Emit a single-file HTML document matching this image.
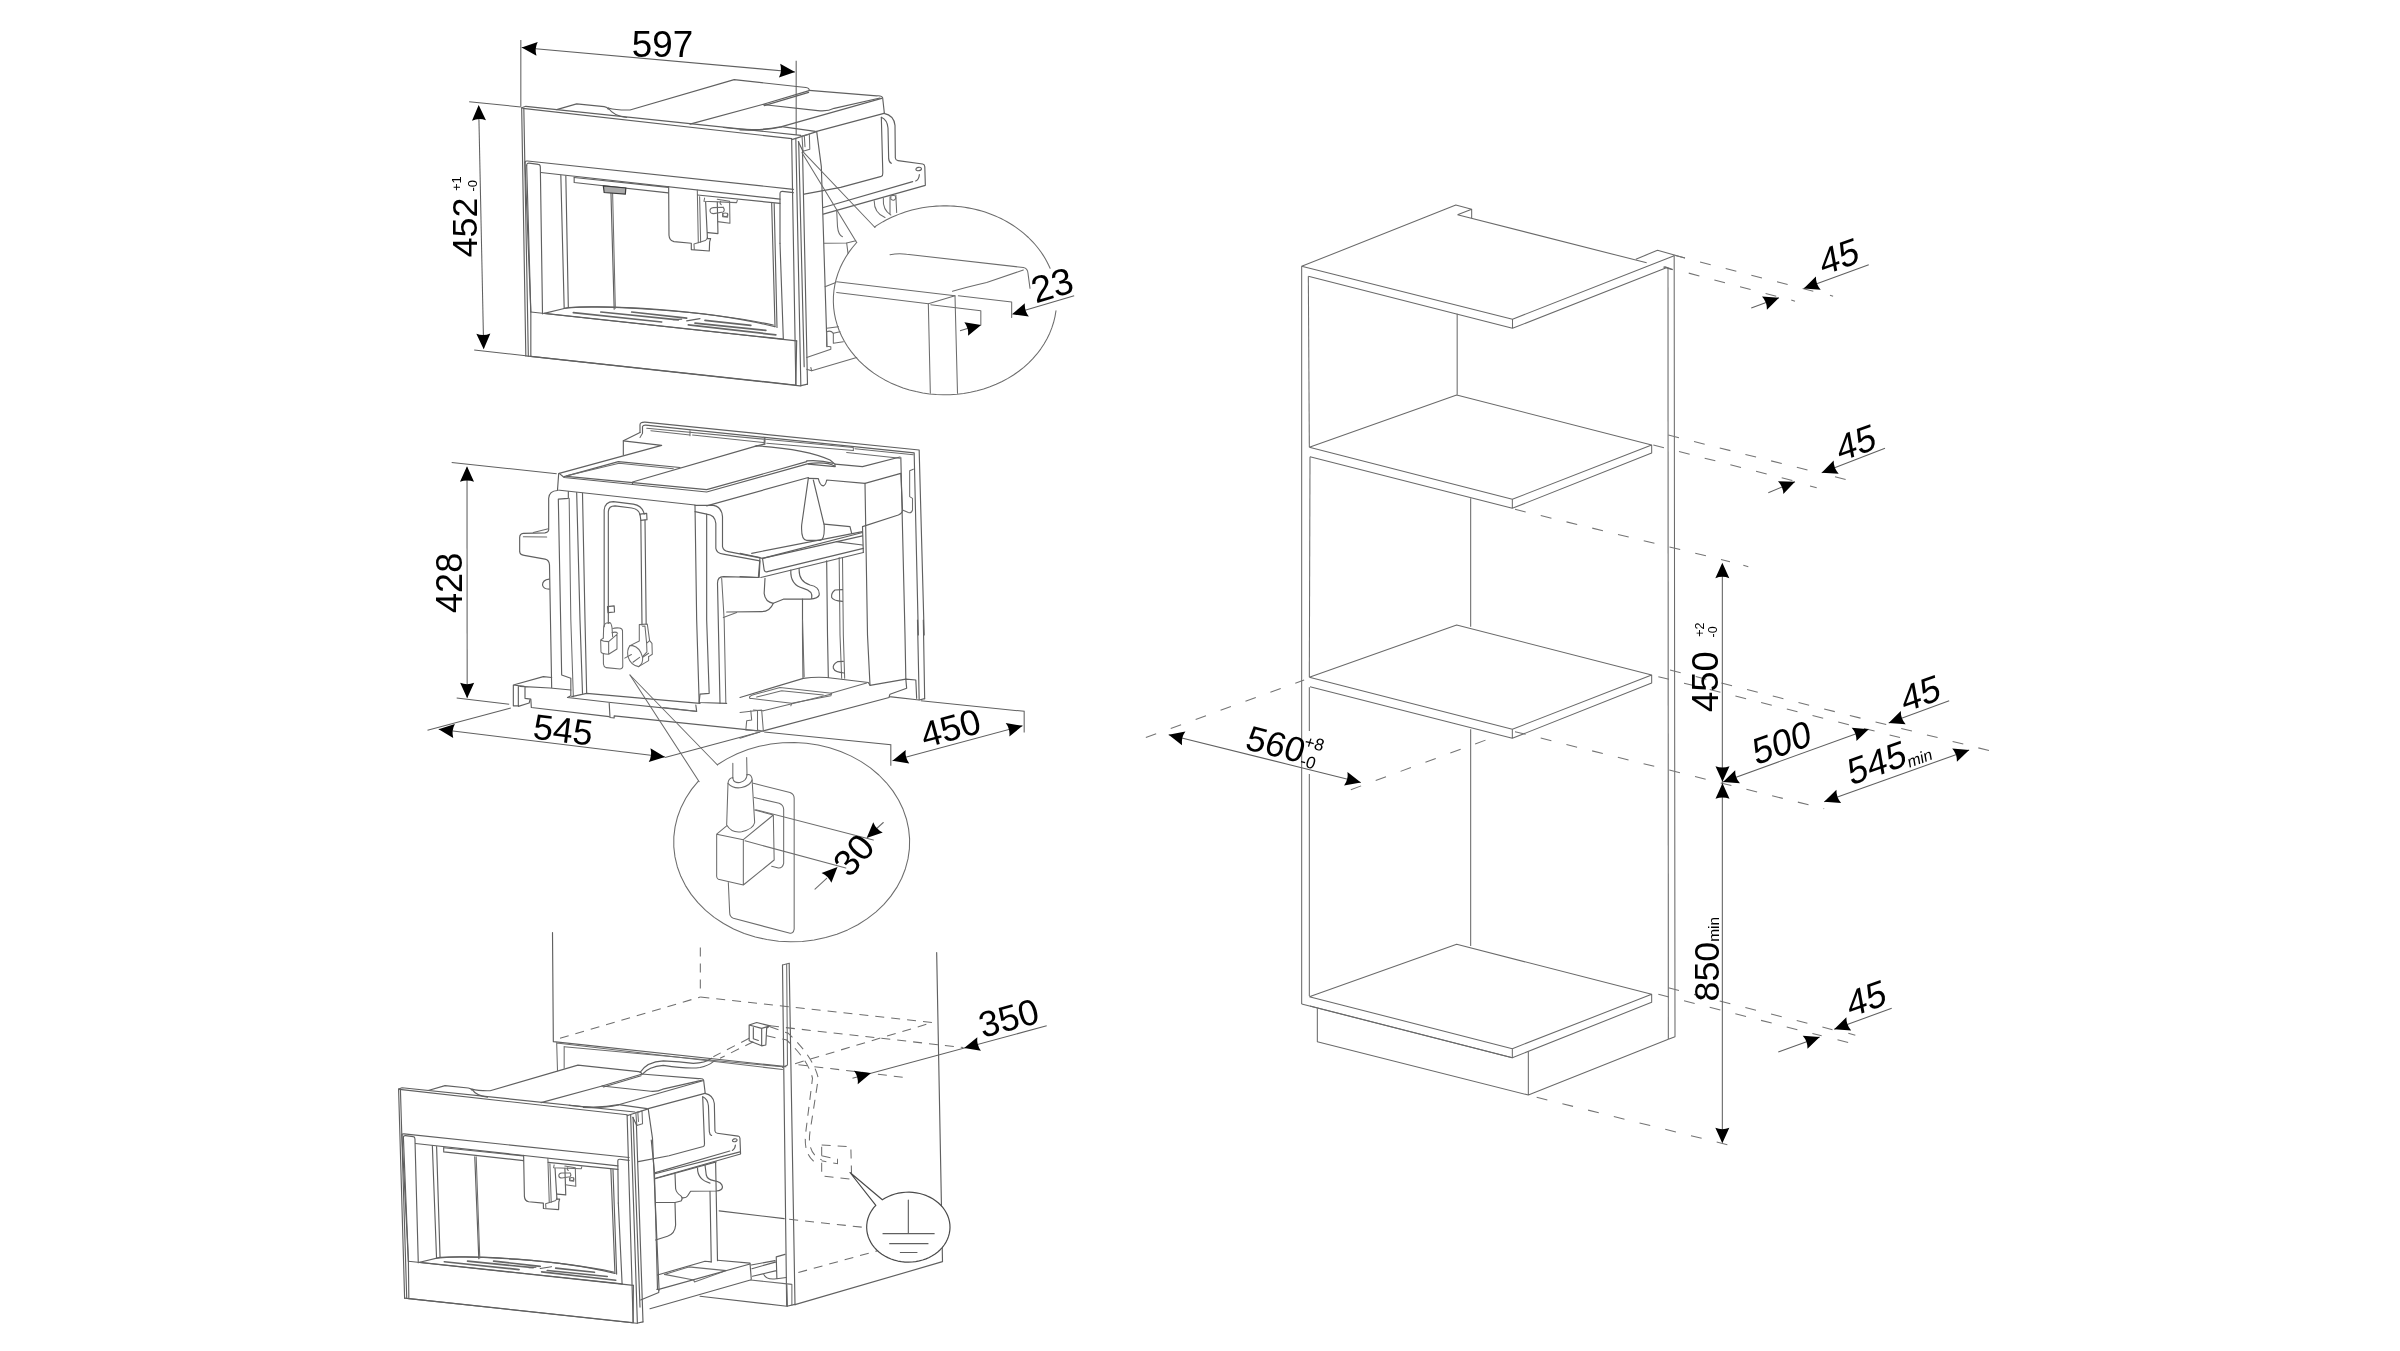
<!DOCTYPE html>
<html><head><meta charset="utf-8"><title>Installation drawing</title>
<style>
html,body{margin:0;padding:0;background:#fff;}
body{width:2400px;height:1351px;overflow:hidden;font-family:"Liberation Sans",sans-serif;}
svg{display:block;filter:blur(0.45px)}
.l,.t{vector-effect:non-scaling-stroke}
.l{fill:none;stroke:#606060;stroke-width:1.15;stroke-linecap:round;stroke-linejoin:round}
.t{fill:none;stroke:#6c6c6c;stroke-width:1.05;stroke-linecap:round;stroke-linejoin:round}
.d{fill:none;stroke:#606060;stroke-width:1.05;stroke-linecap:butt}
.c{fill:none;stroke:#6a6a6a;stroke-width:1.05;stroke-linejoin:round}
.h2{fill:none;stroke:#747474;stroke-width:1.05;stroke-dasharray:11 15.5}
.h{fill:none;stroke:#6e6e6e;stroke-width:1.05;stroke-dasharray:9 7}
.af{fill:#000;stroke:none}
.g{fill:#aaa;stroke:#3a3a3a;stroke-width:1.2}
.w{fill:#fff;stroke:#3a3a3a;stroke-width:1.3;stroke-linejoin:round}
text{font-family:"Liberation Sans",sans-serif;fill:#000}
</style></head><body>
<svg width="2400" height="1351" viewBox="0 0 2400 1351">
<rect width="2400" height="1351" fill="#fff"/>
<!-- 01_top.py -->
<path class="d" d="M 520.83 40 L 520.83 106.67"/>
<path class="d" d="M 796.17 60.83 L 796.17 135"/>
<path class="d" d="M521.67 47.5 L795 72"/>
<path class="af" d="M521.67 47.5 L537.73 41.91 Q534.32 48.63 536.48 55.86 Z"/>
<path class="af" d="M795 72 L778.94 77.59 Q782.35 70.87 780.19 63.64 Z"/>
<text x="662.5" y="56.83" font-size="36.8" text-anchor="middle">597</text>
<path class="d" d="M 469.17 101.67 L 520.83 107"/>
<path class="d" d="M 474.17 350 L 525.83 355.83"/>
<path class="d" d="M 478.67 106.67 L 483.67 348.33"/>
<path class="af" d="M478.67 105 L485.98 120.35 Q478.93 117.7 471.99 120.64 Z"/>
<path class="af" d="M483.67 349.17 L476.35 333.81 Q483.41 336.47 490.35 333.53 Z"/>
<text x="477" y="257.3" font-size="35.8" text-anchor="start" transform="rotate(-90 477 257.3)">452</text>
<text x="461" y="191" font-size="13" text-anchor="start" transform="rotate(-90 461 191)">+1</text>
<text x="477" y="191.5" font-size="13" text-anchor="start" transform="rotate(-90 477 191.5)">-0</text>
<g id="dev">
<path class="l" d="M 521.67 107.83 L 525.83 106.33 L 800.83 135.33"/>
<path class="l" d="M 522.83 108.33 L 791.67 138.67"/>
<path class="l" d="M 521.67 107.83 L 525.83 355.83"/>
<path class="l" d="M 523.83 108.67 L 528.33 356.17"/>
<path class="l" d="M 525 162.5 L 530.83 312.5 L 530.83 356.33"/>
<path class="l" d="M 525.83 355.83 L 800 385.83 L 807.5 384.17"/>
<path class="l" d="M 530.83 356.33 L 795 385"/>
<path class="l" d="M 791.67 139.67 L 795.83 385"/>
<path class="l" d="M 795.83 138.33 L 800.83 385.83"/>
<path class="l" d="M 798.67 141.67 L 804.17 366.67"/>
<path class="l" d="M 802.5 150 L 807.5 384.17"/>
<path class="l" d="M 791.67 139.67 L 795.83 138.33 L 816.67 131.67"/>
<path class="l" d="M 525 162.5 Q 525 160.83 527.5 161 L 793.33 189.33"/>
<path class="l" d="M 526.67 165.33 Q 526.67 163 529.17 163.17 L 538.33 164.33 Q 540.33 164.5 540.33 167 L 542.5 313.83"/>
<path class="l" d="M 526.67 165.33 L 530.83 312"/>
<path class="l" d="M 540.83 172.5 L 780 199.17"/>
<path class="l" d="M 780 243.33 L 780 193.67 Q 780 191.17 782.5 191.33 L 793.33 192.67"/>
<path class="l" d="M 780 243.33 L 783.33 339.17"/>
<path class="l" d="M 560.83 175.33 L 564.17 308"/>
<path class="l" d="M 565.83 176 L 568.33 307.5"/>
<path class="l" d="M 771.67 203.33 L 775 326.67"/>
<path class="l" d="M 774.17 203.67 L 777 327.5"/>
<path class="l" d="M 530.83 312 L 796.67 340.83"/>
<path class="l" d="M 796.67 340.83 L 795.83 385"/>
<path class="l" d="M 544.17 313.33 L 783.33 339.17"/>
<path class="l" d="M 544.17 313.33 L 568.33 307.5"/>
<path class="l" d="M 564.17 308.33 C 606.67 304.17 706.67 310 775 326.67"/>
<path class="l" d="M 568.33 307.5 C 606.67 305 706.67 310.83 773.33 325"/>
<path class="l" style="stroke-width:1.7;stroke:#666" d="M573.33 312.67 L661.67 322"/>
<path class="l" style="stroke-width:1.7;stroke:#666" d="M600.83 312 L678.33 319.83"/>
<path class="l" style="stroke-width:1.7;stroke:#666" d="M631.67 312 L686.67 318.17"/>
<path class="l" style="stroke-width:1.7;stroke:#666" d="M688.33 324.83 L775.83 334.83"/>
<path class="l" style="stroke-width:1.7;stroke:#666" d="M695 323.17 L765.83 330.33"/>
<path class="l" style="stroke-width:1.7;stroke:#666" d="M705 320.33 L750.83 325.33"/>
<path class="l" d="M 673.33 319.67 L 681.67 319.17 M 686.67 320.83 L 700 318.67"/>
<path class="l" d="M 574.17 177.5 L 574.17 182.5 L 668.33 192.83"/>
<path class="l" d="M 574.17 177.5 L 668.33 187.33"/>
<path class="l" d="M 610.83 188.33 L 614.17 309.17"/>
<path class="t" d="M 612.5 188.33 L 615.33 308.33"/>
<path class="l" d="M 668.65 186.66 L 668.99 235.29 Q 669.32 240.62 673.98 241.62 L 691.31 243.28 L 691.31 249.61 L 709.29 250.95 L 709.63 241.95 L 710.63 238.62 L 708.09 238.62"/>
<path class="t" d="M 697.3 189.99 L 698.3 242.62 M 699.63 196.65 L 700.63 242.29"/>
<path class="t" d="M 693.97 243.95 L 705.3 240.62 Q 707.43 239.29 707.43 237.29 M 693.97 243.95 L 694.3 249.41"/>
<path class="l" d="M 705.63 201.98 L 707.43 238.62 M 717.29 201.98 L 717.95 233.62 L 707.96 232.62"/>
<path class="t" d="M 717.29 199.31 L 729.61 201.31 L 729.95 223.3 L 717.62 221.63"/>
<path class="t" d="M 704.63 197.98 L 703.96 201.31 L 736.61 202.64 L 737.28 200.31"/>
<path class="t" d="M 720.62 201.31 Q 719.29 203.31 721.29 204.64 M 723.28 207.31 L 713.29 207.64 Q 709.96 207.97 709.96 210.97 Q 710.29 213.64 713.62 213.64 L 723.28 211.97 Q 725.28 209.97 723.28 207.31"/>
<ellipse class="t" cx="725.28" cy="214.77" rx="2.5" ry="1.8"/>
<path class="t" d="M 722.62 213.3 L 722.62 216.64 L 727.61 217.3 L 727.61 213.3"/>
<path class="l" d="M 697.5 195 L 780 203.33"/>
</g>
<path class="g" d="M603.33 185.83 L625.83 188 L625.33 194.17 L604.17 192.5 Z"/>
<!-- 02_top_b.py -->
<g id="dev2">
<path class="l" d="M 556.67 109.67 L 576.67 103.83 L 604.17 106.67 Q 607.5 107.17 608.33 109.17"/>
<path class="l" d="M 608.33 108 Q 613.33 115.83 626.67 117.5"/>
<path class="l" d="M 608.33 108 Q 616.67 110.33 630 110 L 734.17 79.67 L 805.83 87.5 Q 809.67 88 809.17 90.67 L 762.5 104.5"/>
<path class="l" d="M 808.67 92.33 L 764.17 105.67"/>
<path class="l" d="M 690 124.17 L 762.5 104.5"/>
<path class="l" d="M 762.5 104.5 L 820 110.83 Q 828.33 111.33 834.17 108.33 L 880 98"/>
<path class="l" d="M 723.33 127.5 Q 756.67 132 781.67 126.67 L 881.67 98.33"/>
<path class="l" d="M 740 130 Q 765 130.83 781.67 127"/>
<path class="l" d="M 809.17 90.33 L 876.67 95.83 Q 882 95.33 882.67 98 L 884.33 113"/>
<path class="l" d="M 781.67 126.67 L 815.33 131.33"/>
<path class="l" d="M 816.67 131.33 L 884 113.33"/>
<path class="l" d="M 816.67 131.33 L 821.33 166.67 L 827 346.67"/>
<path class="l" d="M 881.33 117.33 L 882.8 172.67 Q 883 175.67 881.33 176.33 L 840.67 187.33 L 804.17 194.17"/>
<path class="l" d="M 884 113.33 Q 894 115.33 895 125.33 L 895.33 158 Q 895.67 160.33 898 160.67 L 922.67 164 Q 924.67 164.53 924.8 166.67 L 925.33 185.33 L 823.33 214.17"/>
<path class="l" d="M 881.33 117.33 Q 887.33 120 888 128 L 888.67 158.67 Q 889 162.33 891.33 163.33"/>
<ellipse class="l" cx="918.67" cy="169" rx="2.8" ry="1.7" transform="rotate(-10 918.67 169)"/>
<path class="l" d="M 919.33 174.67 Q 919 179.33 915.67 181"/>
<path class="l" d="M 912.67 181.67 L 823.33 207.5"/>
<path class="t" d="M 802 136 L 809.33 134.33 L 809.8 149.33 L 803 151.33 Z"/>
<path class="t" d="M 804.33 135.67 L 805 146.67"/>
<path class="l" d="M 798.33 141.67 L 803 151.33"/>
</g>
<path class="t" d="M 874.17 200.83 Q 874.17 213.33 885 217.5 M 883.33 198.33 Q 882.5 210 890.83 215 M 890 196.67 L 890 214.17 M 895.83 195 L 896.67 212.5"/>
<path class="t" d="M 890.83 195.83 Q 895.83 194.17 895.83 198.33 Q 894.17 201.67 890.83 199.17 Z"/>
<path class="t" d="M 836.67 210 L 837.5 226.67 Q 838.33 235 842.5 236.67"/>
<path class="t" d="M 824.17 243.33 L 846.67 243 L 855.83 240.83"/>
<path class="t" d="M 846.67 243 L 848 253.33"/>
</g>
<path class="t" d="M 802.67 151.33 L 875 227.5"/>
<path class="t" d="M 802 152.67 L 856.67 242.5"/>
<path class="t" d="M 806.67 357.5 L 830.83 349.17 L 830.83 346.67 L 826.67 346.33 L 826.67 331.67 Q 830.83 330 833.33 333.33 L 833.33 343.33 L 843.33 341.67"/>
<path class="t" d="M 811.67 370.83 L 856.67 357.5"/>
<path class="t" d="M 806.67 369.17 L 811.67 370.83 L 810.83 367.5"/>
<path class="t" d="M 825 286.67 L 835.83 282.5"/>
<path class="t" d="M 826.67 328.33 L 838.33 326.67 M 833.33 333.33 L 840 331.67"/>
<path class="t" d="M 874.53 227.02 L 877.33 225.17 L 880.18 223.38 L 883.12 221.67 L 886.1 220.05 L 889.15 218.5 L 892.25 217.05 L 895.4 215.67 L 898.62 214.37 L 901.87 213.17 L 905.15 212.05 L 908.5 211.03 L 911.87 210.08 L 915.28 209.25 L 918.72 208.48 L 922.18 207.83 L 925.67 207.27 L 929.17 206.78 L 932.7 206.42 L 936.23 206.13 L 939.77 205.93 L 943.32 205.85 L 946.87 205.85 L 950.42 205.95 L 953.97 206.13 L 957.5 206.43 L 961.02 206.82 L 964.52 207.28 L 968.02 207.87 L 971.47 208.53 L 974.92 209.28 L 978.32 210.13 L 981.68 211.08 L 985.02 212.12 L 988.32 213.23 L 991.57 214.45 L 994.77 215.73 L 997.92 217.12 L 1001.02 218.58 L 1004.07 220.13 L 1007.05 221.77 L 1009.97 223.47 L 1012.82 225.27 L 1015.62 227.12 L 1018.32 229.07 L 1020.97 231.07 L 1023.53 233.15 L 1026.02 235.3 L 1028.42 237.5 L 1030.73 239.78 L 1032.97 242.12 L 1035.1 244.52 L 1037.17 246.97 L 1039.12 249.48 L 1040.98 252.03 L 1042.75 254.63 L 1044.42 257.3 L 1045.98 259.98 L 1047.45 262.73 L 1048.8 265.5 L 1050.07 268.32"/>
<path class="t" d="M 1055.97 310.85 L 1055 316.6 L 1053.62 322.28 L 1051.82 327.88 L 1049.62 333.4 L 1047.02 338.77 L 1044.03 344 L 1040.67 349.07 L 1036.95 353.95 L 1032.88 358.63 L 1028.48 363.08 L 1023.78 367.32 L 1018.77 371.28 L 1013.48 374.98 L 1007.93 378.4 L 1002.13 381.52 L 996.13 384.33 L 989.95 386.83 L 983.58 389.02 L 977.07 390.85 L 970.43 392.35 L 963.7 393.5 L 956.9 394.3 L 950.07 394.73 L 943.2 394.82 L 936.35 394.55 L 929.52 393.92 L 922.75 392.93 L 916.07 391.6 L 909.5 389.93 L 903.07 387.92 L 896.78 385.57 L 890.68 382.9 L 884.8 379.92 L 879.13 376.65 L 873.72 373.07 L 868.57 369.23 L 863.72 365.13 L 859.17 360.78 L 854.93 356.2 L 851.05 351.42 L 847.52 346.43 L 844.35 341.28 L 841.58 335.97 L 839.18 330.52 L 837.2 324.97 L 835.6 319.32 L 834.43 313.58 L 833.68 307.82 L 833.35 302.02 L 833.43 296.2 L 833.95 290.42 L 834.88 284.65 L 836.23 278.97 L 837.98 273.35 L 840.15 267.83 L 842.7 262.45 L 845.65 257.2 L 848.97 252.12 L 852.65 247.22 L 856.68 242.5"/>
<path class="t" d="M 890 254.67 Q 898.33 253 906.67 254.17 L 1023.33 267.5 Q 1027.67 268.33 1028 273.33 L 1030 288.33"/>
<path class="t" d="M 1023.33 270 L 986.67 282.5 Q 965 287.5 952.5 291.33"/>
<path class="t" d="M 836.67 281.67 L 955 295.83 L 957.5 393.33"/>
<path class="t" d="M 958.33 295.83 L 1011.67 302 L 1011.67 317.5"/>
<path class="t" d="M 836.67 292.5 L 928.33 303.67 L 955 295.83"/>
<path class="t" d="M 928.33 303.67 L 930.33 393.33"/>
<path class="t" d="M 930.83 304.67 L 980.83 310.83 L 980.83 325"/>
<path class="d" d="M 960 330.83 L 968.33 328.33"/>
<path class="af" d="M981.17 325 L968.08 335.87 Q968.92 328.37 964.36 322.37 Z"/>
<path class="d" d="M 1023.33 310.83 L 1074.17 295.83"/>
<path class="af" d="M1012 314.33 L1024.86 303.2 Q1024.17 310.71 1028.85 316.62 Z"/>
<text x="1055.83" y="297.5" font-size="37.5" text-anchor="middle" transform="rotate(-16.5 1055.83 297.5)">23</text>
<!-- 03_mid.py -->
<path class="d" d="M 451.67 462.5 L 556.67 473.67"/>
<path class="d" d="M 456.67 698 L 509.17 704.17"/>
<path class="d" d="M 467 467.5 L 467.17 697.5"/>
<path class="af" d="M467 466.33 L474.01 481.83 Q467.01 479.03 460.01 481.84 Z"/>
<path class="af" d="M467.17 698.33 L460.16 682.84 Q467.16 685.63 474.16 682.83 Z"/>
<text x="462.3" y="613" font-size="36.1" text-anchor="start" transform="rotate(-90 462.3 613)">428</text>
<path class="d" d="M 427.5 730.33 L 510.83 708"/>
<path class="d" d="M 665 757.5 L 760 732"/>
<path class="d" d="M438.67 729.17 L665 757"/>
<path class="af" d="M438.67 729.17 L454.91 724.11 Q451.27 730.72 453.2 738.01 Z"/>
<path class="af" d="M665 757 L648.76 762.06 Q652.39 755.45 650.47 748.16 Z"/>
<text x="561.67" y="742.17" font-size="35.8" text-anchor="middle" transform="rotate(7 561.67 742.17)">545</text>
<path class="d" d="M 764.17 732 L 890.83 744.67 L 890.83 765.83"/>
<path class="d" d="M 920.83 700.83 L 1024.17 711.33 L 1024.17 732.5"/>
<path class="d" d="M892.5 760.83 L1022.5 725.83"/>
<path class="af" d="M892.5 760.83 L905.65 750.04 Q904.76 757.53 909.29 763.56 Z"/>
<path class="af" d="M1022.5 725.83 L1009.35 736.62 Q1010.24 729.13 1005.71 723.1 Z"/>
<text x="953.83" y="740.17" font-size="36.2" text-anchor="middle" transform="rotate(-15 953.83 740.17)">450</text>
<path class="l" d="M 640 432.5 L 640 424.67 Q 640 422 645 422.17 L 919.17 450 L 924.17 635"/>
<path class="l" d="M 642.5 433.33 L 642.5 426.67 Q 643 425 645.83 425.17 L 914.17 452.83 L 918.33 635"/>
<path class="t" d="M 650.83 430.83 L 690 435 M 690 430.83 L 690 435.83 M 692.5 435 L 763.33 442.5 M 764.17 438.33 L 764.17 444.17 M 765 438.33 L 765 444.17 M 766.67 443.33 L 853.33 450.5"/>
<path class="t" d="M 646.67 428.33 L 853.33 447.5 L 853.33 450.5"/>
<path class="t" d="M 855 448.67 L 913.33 454.67"/>
<path class="t" d="M 846.67 452.5 L 900 458.33"/>
<path class="l" d="M 640 432.5 L 623.33 440.83 L 623.33 455"/>
<path class="l" d="M 623.33 440.83 L 661.67 445.33 L 559.17 473.33"/>
<path class="t" d="M 640 437.5 L 642.5 433.33"/>
<path class="l" d="M 559.17 473.33 L 564.17 477.5 L 706.67 492 L 808.33 463.67 Q 826.67 461.33 835 466.33"/>
<path class="l" d="M 566.67 476.33 L 706.67 489.67 L 806.67 461.67 L 806.67 460.83 Q 820 459.67 833.33 463.33"/>
<path class="l" d="M 808.33 464.17 L 835 466.67 L 835 464.17 L 830 460 Q 806.67 449.17 756.67 445.83"/>
<path class="l" d="M 564.17 476.67 L 618.33 461.67 L 680 467.5"/>
<path class="t" d="M 566.67 475.83 L 619.17 463.33 L 673.33 468.67"/>
<path class="l" d="M 632.5 484.17 L 632.5 482 L 755 446.33 L 764.17 444.17"/>
<path class="l" d="M 755 446.33 L 756.67 445.83"/>
<path class="l" d="M 835 464.17 L 862.5 466.67 L 900 457"/>
<path class="l" d="M 558.67 473.67 L 557.5 490 L 695 505 M 706.67 505.83 L 808.33 477.5 L 808.33 478.33"/>
<path class="l" d="M 557.5 490.5 Q 549.17 490.83 548.67 498.33 L 548.67 530 Q 548.33 532.5 545 532.83 L 523.33 533.33 Q 519.67 533.67 519.67 537.5 L 519.67 551.67 Q 520 555 524.17 555.33 L 545 559.17 Q 549.17 560 549.5 565 L 551.67 687.5"/>
<path class="l" d="M 568.33 491.67 L 568.33 498.33 L 558.33 499.17 L 561.67 675 L 570.83 678.33 L 570.83 695.83 L 567.5 697.5"/>
<path class="t" d="M 569.17 498.33 L 570.83 620 L 573.33 696.67"/>
<path class="l" d="M 576.67 492.5 L 580 620 L 582.5 693.33"/>
<path class="l" d="M 582.5 493.33 L 585 620 L 586.67 693.33"/>
<path class="t" d="M 533.33 532.5 L 548.33 528.67 M 523.33 536.67 L 546.67 537"/>
<path class="l" d="M 549.17 579.17 Q 542.5 580 542.5 585 Q 543.33 589.17 549.17 589.17"/>
<path class="l" d="M 604.17 626.67 L 604.17 510 Q 605 501.67 613.33 501.67 L 633.33 504.17 Q 642.5 505.83 644.17 514.17"/>
<path class="l" d="M 608.33 623.33 L 608.33 511.67 Q 608.67 505.83 615 505.83 L 631.67 508 Q 639.17 509.17 640 515"/>
<path class="l" d="M 640 514.17 L 646.67 513.33 L 647 519.67 L 640.83 520.33 Z"/>
<path class="l" d="M 640.83 520.33 L 642 625 M 645 520 L 646.17 624.17"/>
<path class="l" d="M 607.5 606.67 L 614.17 605.83 L 614.5 612 L 608 612.67 Z"/>
<path class="t" d="M 603.32 637.97 L 603.65 627.31 Q 604.65 623.31 606.65 622.98 L 609.98 622.64 Q 611.31 623.31 611.98 627.31 L 612.64 636.64"/>
<path class="t" d="M 612.64 628.64 Q 614.64 627.64 619.31 627.97 Q 622.31 628.31 622.5 630.64 L 622.77 666.62 Q 622.31 668.95 619.97 668.95 L 605.98 667.61 Q 603.65 666.62 603.45 663.95 L 603.32 653.96"/>
<path class="t" d="M 600.65 639.97 L 600.99 651.96 Q 601.65 653.62 608.65 654.29 L 608.65 641.63 Q 603.32 641.63 600.65 639.97 L 603.32 638.1 M 608.65 641.63 L 616.98 634.3 L 616.98 648.96 L 608.65 654.29 M 611.98 632.64 Q 615.98 631.31 617.64 633.3"/>
<path class="t" d="M 639.29 624.64 L 647.29 623.98 L 649.62 640.63 L 651.95 643.3 L 652.29 654.29 L 648.62 656.62 M 639.29 624.64 L 639.29 640.97 L 629.97 645.63 M 642.62 626.31 L 644.96 625.98 L 646.62 643.3 L 649.29 640.97 M 646.62 643.3 L 646.96 651.96 L 642.62 656.62"/>
<path class="t" d="M 629.97 645.63 Q 626.64 649.96 627.97 656.62 Q 630.63 665.28 638.63 666.62 Q 643.29 663.95 642.62 657.29 Q 639.96 647.3 632.63 645.63 Z"/>
<path class="t" d="M 638.63 666.62 L 648.62 660.62 L 648.62 656.62 M 642.62 657.29 L 648.62 653.29"/>
<g style="stroke-width:1.5">
<path class="t" d="M 624.77 658.09 L 631.43 654.49 M 632.96 662.29 L 639.63 657.42"/>
</g>
<path class="l" d="M 695 505.33 L 713.33 505.33 Q 721.67 506.67 722.5 516.67 L 722.5 546.67 Q 723.33 550.83 728.33 551.67 L 762.5 558.33 L 862.5 532.5"/>
<path class="l" d="M 695 511.67 L 706.67 514.17 Q 715 515 715.83 523.33 L 715.83 548.33 Q 716.67 553.33 723.33 554.17 L 760 560.83 L 759.17 577.5 L 723.33 576.67 Q 717.5 576.67 717.5 583.33 L 720 703.33"/>
<path class="l" d="M 695 505.33 L 696.67 620 L 699.17 702.5"/>
<path class="l" d="M 706.67 514.17 L 706.67 620 L 709.17 693.33 L 700 694.17 L 699.17 702.5 L 726.67 703.33"/>
<path class="t" d="M 721.67 578.33 L 724.17 620 L 725.83 702.5"/>
<path class="t" d="M 723.33 617.5 L 736.67 612.5"/>
<path class="l" d="M 764.17 570 L 762.5 558.33 M 764.17 570 Q 765 572.5 767.5 571.67 L 863.33 548.33"/>
<path class="l" d="M 762.5 558.33 L 862.5 535.83 M 760.83 577.5 L 863.33 552.5 M 740 553.33 L 760 557.5 L 758.33 577.5 L 740 576.67 M 751.67 553.33 L 862.5 531.67 M 835.83 541.67 L 862.5 545"/>
<path class="l" d="M 862.5 526.67 L 863.33 552.5"/>
<path class="l" d="M 808.33 478.33 L 818.33 478.67 Q 820 485.83 823.33 485.83 Q 825.83 485 826.67 480 L 865 483.33 L 900.83 473.33 L 902.5 510 Q 902.5 513.33 898.33 515 L 862.5 526.67"/>
<path class="l" d="M 865 483.33 L 867.5 635 L 870 685.33"/>
<path class="l" d="M 900.83 457.5 L 905 635 L 905.83 679.17"/>
<path class="l" d="M 808.33 478.33 L 801.67 525 Q 800.83 540 806.67 540.33 L 820 540.33 Q 825 540 824.17 525 L 813.33 480"/>
<path class="l" d="M 824.17 524.17 L 850 526.67 L 851.67 533.33"/>
<path class="t" d="M 913.33 469.17 L 909.67 470.83 L 909.67 496.67 L 912.5 498.33 L 912.5 510 Q 911.67 513.33 908.33 512.5 L 902.5 510"/>
<path class="l" d="M 790.83 570 Q 790 585 803.33 588.33 Q 813.33 590.83 811.67 598.33"/>
<path class="l" d="M 799.17 568.33 Q 798.33 581.67 810 585 Q 820 586.67 819.17 595 Q 818.33 598.33 810 599.17 L 783.33 599.17 L 773.33 603.33 Q 770 611.67 761.67 611.67 L 726.67 612"/>
<path class="l" d="M 765 578.33 L 764.17 593.33 Q 765 601.67 773.33 603.33"/>
<path class="l" d="M 802.5 599.17 L 802.5 635 L 803 677.5"/>
<path class="l" d="M 826.67 560.83 L 827.5 635 L 828.33 677.5"/>
<path class="t" d="M 839.17 557.5 L 840 635 L 841.67 678.33 M 842.5 557.5 L 843.33 635 L 844.67 678.33"/>
<path class="l" d="M 842.5 589.67 L 835 590 Q 830.83 593.33 831.67 597.5 Q 833.33 600.83 842.5 601.33"/>
<path class="l" d="M 843.33 661.33 L 837.5 661.67 Q 832.5 664.17 833.33 668.33 Q 835 672.5 844.17 673"/>
<path class="t" d="M 802.5 620 L 804.17 676.67"/>
<path class="l" d="M 513.33 705.83 L 513.33 685 L 543.33 676.67 L 551.67 677.5 M 513.33 685 L 524.17 686.33 M 518.33 686.67 L 518.33 705.83 L 513.33 705.83 M 518.33 706.33 L 529.17 703 L 530 699.67"/>
<path class="l" d="M 520 686.33 L 550 688 L 570.83 690 M 525 687.5 L 525 698.33 L 530.83 699.17 L 531.33 707.5 L 609.17 716.67"/>
<path class="l" d="M 567.5 697.5 L 610.83 702.5 L 696.67 711.33 L 695.83 705 M 609.17 702.5 L 610 717.5 L 614.17 718 L 614.17 715.83 L 758.33 730.83"/>
<path class="l" d="M 571.67 696.67 L 586.67 693.33 L 700 703.33"/>
<path class="t" d="M 663.33 707.5 L 695.83 711.33"/>
<path class="l" d="M 740 697.5 L 803.33 678.33 Q 815 676.67 826.67 677.5 L 868.33 682.5 L 870 685.33 L 905.83 679.17 L 915.83 680 L 916.67 698.33"/>
<path class="l" d="M 905.83 679.17 L 906.67 688.33 L 890 694.17 L 889.17 696.67 L 919.17 700 L 924.67 698.67"/>
<path class="l" d="M 917.5 620 L 919.17 699.67 M 923.33 620 L 924.67 698.67"/>
<path class="t" d="M 750 698.33 Q 748.33 696.67 752.5 695 L 780 687.5 L 831.67 693.33 L 830.83 695.83 L 791.67 703.33 L 790.83 705.83 M 750 698.33 L 791.67 703.33"/>
<path class="t" d="M 756.67 697 L 781.67 690.83 L 823.33 695"/>
<path class="t" d="M 866.67 683 L 830.83 693.33"/>
<path class="l" d="M 763.33 730.83 L 889.17 697.5"/>
<path class="t" d="M 740 712.5 L 761.67 710 L 763.33 730.83 L 740 738.33 M 763.33 710.83 L 830.83 694.17"/>
<path class="t" d="M 753.33 710 L 763.33 710.83 M 757.5 710.83 L 757.5 730 L 763.33 731.33 M 750.83 710.83 L 751.67 720 L 746.67 720.83 L 745.83 730 L 757.5 730.83"/>
<path class="t" d="M 717.3 764.78 L 726.9 758.85 L 737.17 753.77 L 747.98 749.58 L 759.25 746.33 L 770.83 744.07 L 782.63 742.8 L 794.53 742.53 L 806.4 743.28 L 818.12 745.03 L 829.57 747.78 L 840.63 751.48 L 851.2 756.12 L 861.15 761.62 L 870.4 767.93 L 878.85 775 L 886.42 782.77 L 893.02 791.13 L 898.58 800.02 L 903.07 809.32 L 906.42 818.97 L 908.6 828.85 L 909.6 838.87 L 909.4 848.92 L 908 858.88 L 905.4 868.7 L 901.67 878.23 L 896.8 887.42 L 890.87 896.13 L 883.93 904.3 L 876.07 911.83 L 867.32 918.65 L 857.82 924.7 L 847.63 929.9 L 836.9 934.22 L 825.68 937.6 L 814.13 940.02 L 802.35 941.42 L 790.47 941.83 L 778.58 941.22 L 766.83 939.6 L 755.35 937 L 744.23 933.42 L 733.58 928.92 L 723.53 923.53 L 714.18 917.33 L 705.62 910.35 L 697.92 902.68 L 691.18 894.4 L 685.45 885.6 L 680.82 876.33 L 677.3 866.73 L 674.97 856.88 L 673.8 846.88 L 673.83 836.83 L 675.07 826.83 L 677.5 816.98 L 681.08 807.4 L 685.78 798.18 L 691.57 789.4 L 698.37 781.15"/>
<path class="t" d="M 630 675 L 699.17 781.67"/>
<path class="t" d="M 630 675 L 717.5 765"/>
<path class="t" d="M 732.83 763.33 L 732.83 778.33 M 746.67 757.5 L 747 775"/>
<path class="t" d="M 728 783.33 L 726.67 825 Q 731.67 833.33 741.67 831.67 Q 753.33 829.17 754.67 822.5 L 752 778.33 Q 750.83 773.67 746.67 774.67 M 728 783.33 Q 728.33 778.33 732.83 777.5"/>
<path class="t" d="M 728 783.33 Q 733.33 789.17 741.67 787.5 Q 750 785.83 752.17 780 M 732.83 778 Q 733.33 783.33 740 782.5 Q 746.67 780.83 747 775"/>
<path class="t" d="M 716.67 834.17 L 743.33 839.67 L 773.33 815 L 774.17 860 L 743.33 885 L 718.33 879.17 Q 716.33 878.33 716.67 875 Z M 716.67 834.17 L 726.67 825.83 M 743.33 839.67 L 743.33 885 M 754.67 810 L 773.33 815"/>
<path class="t" d="M 753.33 783.33 L 790 792.5 Q 794.17 794.17 794.17 798.33 L 794.17 929.17 Q 793.33 934.17 789.17 933 L 733.33 918.33 Q 729.67 916.67 729.67 912.5 L 728.33 882.5"/>
<path class="t" d="M 754.17 797.5 L 779.17 803.33 Q 783.33 805 783.67 809.17 L 783.67 863.33 Q 782.5 868.33 778.33 868 L 771.67 866.33"/>
<path class="t" d="M 755.83 809.67 L 873.33 840 M 745 840.83 L 845.83 868"/>
<path class="t" d="M 875 830 L 883.33 822.5"/>
<path class="af" d="M866.67 838 L873.25 822.32 Q875.97 829.35 882.78 832.57 Z"/>
<path class="t" d="M 815 889.17 L 826.67 878.33"/>
<path class="af" d="M837.5 867 L831.37 882.86 Q828.45 875.91 821.55 872.89 Z"/>
<text x="863" y="863.33" font-size="36.5" text-anchor="middle" transform="rotate(-48 863 863.33)">30</text>
<!-- 04_bot.py -->
<use href="#dev" transform="matrix(0.84528 -0.00078 0.01011 0.84347 -43.459 998.451)"/>
<use href="#dev2" transform="matrix(0.84528 -0.00078 0.01011 0.84347 -43.459 998.451)"/>
<path class="l" d="M 552.5 932.5 L 553.33 1041.67 L 785.83 1066.67"/>
<path class="t" d="M 556.67 1043 L 782.5 1069.5 M 556.67 1042.5 L 557.5 1070.83 M 564.17 1046.67 L 564.17 1068.33"/>
<path class="t" d="M 564.17 1046.67 L 782.5 1066.67"/>
<path class="l" d="M 782.5 965 L 786.67 1305.83"/>
<path class="l" d="M 789.17 963.33 L 795 1304.67"/>
<path class="t" d="M 786.67 964.17 L 787.5 1065 L 782.5 1067.5"/>
<path class="t" d="M 782.5 965 L 789.17 963.33"/>
<path class="l" d="M 936.67 952.5 L 942.5 1261.67 L 795 1304.67"/>
<path class="l" d="M 719.17 1210.83 L 784.17 1218.67"/>
<path class="h" d="M 700.33 947.5 L 700.33 995"/>
<path class="h" d="M 560 1038.33 L 700.33 997"/>
<path class="h" d="M 700.33 997 L 932.5 1022.5 L 793.33 1064.17 L 909.17 1078"/>
<path class="h" d="M 770 1025.83 L 963.33 1047.5"/>
<path class="h" d="M 789.17 1219.17 L 865 1227.5"/>
<path class="h" d="M 798.33 1272.5 L 877.5 1250.83"/>
<path class="h" d="M 770 1026.67 L 788.33 1033.33 Q 813.33 1056.67 818.33 1078.33 L 810 1131.67 Q 806.67 1153.33 821.67 1160"/>
<path class="h" d="M 766.67 1035.83 L 786.67 1040 Q 808.33 1060 812.5 1078.33 L 805.83 1131.67 Q 802.5 1156.67 818.33 1164.17"/>
<path class="h" d="M 749.17 1038.33 L 713.33 1056.67 M 753.33 1041.67 L 720 1058.33"/>
<path class="h" d="M 821.67 1145 L 850.83 1146.67 L 851.67 1179.17 L 821.67 1175.83 Z M 821.67 1155.83 L 837.5 1159.17 L 837.5 1163.67 L 821.67 1160.83"/>
<g style="stroke:#222;stroke-width:1.6">
<path class="l" d="M 749.17 1025 L 749.17 1040.83 L 761.67 1045.83 L 761.67 1028.33 Z M 753.33 1027.5 L 753.33 1038.67 L 758.33 1040.5 M 749.17 1025 L 756.67 1022.5 L 770 1025.83 L 761.67 1028.33 M 770 1025.83 L 766.67 1028.33 L 765.83 1045 L 761.67 1045.83"/>
</g>
<path class="l" d="M 640 1072.5 Q 646.67 1061.67 663.33 1060.83 Q 680 1061.67 693.33 1063.33 Q 705 1063.33 711.67 1058.33"/>
<path class="l" d="M 642.5 1074.17 Q 648.33 1066.67 663.33 1065.33 Q 688.33 1069.17 700 1067.5 Q 708.33 1065.83 713.33 1061.67"/>
<path class="l" d="M 651.25 1140 L 654.38 1171.25 L 656.25 1240 L 657.5 1289.38"/>
<path class="l" d="M 655 1173.75 L 740 1151.88 M 655 1178.75 L 716.25 1161.88"/>
<path class="l" d="M 675 1173.75 L 675.62 1188.75 Q 676.5 1193.12 680.62 1195.62 Q 683.5 1198.12 681 1201 L 675 1202.5 L 655.62 1202.5"/>
<path class="l" d="M 681.88 1197.75 Q 686.25 1198.12 687.5 1196 L 690.62 1191.25 L 716.25 1191 Q 722.25 1190.62 722.5 1186.88 Q 721.88 1181.88 713.75 1180.62 Q 707.5 1179.75 706.25 1175 L 705 1165"/>
<path class="l" d="M 697.5 1168.12 Q 697.5 1180 710 1183.12"/>
<path class="l" d="M 675 1202.5 L 675.62 1225 Q 675 1233.75 667.5 1236.25 L 655.62 1240"/>
<path class="l" d="M 710 1191.25 L 711.25 1261.88 M 715.62 1162.5 L 717.5 1260.62"/>
<path class="l" d="M 657.5 1275 L 705 1261.25 L 711.25 1261.88 M 717.5 1260.25 L 750 1263.12 L 751.25 1278.75"/>
<path class="t" d="M 664.38 1274.38 L 688.75 1266.88 L 726.25 1270.62 L 694.38 1281.88 L 693.75 1280 L 664.38 1274.38"/>
<path class="l" d="M 640.62 1300 L 658.75 1292.5 L 658.75 1289.38 L 656.88 1289.38 M 658.75 1289.38 L 750 1264 M 650 1308.75 L 751.25 1279.75"/>
<path class="l" d="M 751.25 1265 L 775 1260.62 M 751.88 1268.75 L 776.25 1261.88 M 752.5 1276.25 L 776.25 1270.62 M 776.25 1256.88 L 785 1254.38 M 776.25 1256.88 L 776.88 1278.75 L 786.25 1277.5 M 763.75 1274.38 Q 766.25 1280 776.25 1278.75"/>
<path class="t" d="M 750.62 1280 L 791.88 1284.38 L 791.88 1305 M 786.88 1285 L 787.5 1306.25"/>
<path class="l" d="M 700 1296.25 L 786.88 1306.25 L 795 1304.38"/>
<path class="d" d="M 852.5 1078.33 L 1046.67 1025.83"/>
<path class="af" d="M870.83 1073.33 L857.72 1084.16 Q858.58 1076.67 854.04 1070.66 Z"/>
<path class="af" d="M964.17 1048 L977.32 1037.22 Q976.43 1044.7 980.95 1050.74 Z"/>
<text x="1012" y="1030.17" font-size="36.2" text-anchor="middle" transform="rotate(-15.2 1012 1030.17)">350</text>
<path class="w" style="stroke:#4a4a4a;stroke-width:1.2" d="M882.33 1199.82 L885.24 1198.03 L888.33 1196.46 L891.57 1195.13 L894.93 1194.03 L898.39 1193.18 L901.93 1192.58 L905.51 1192.25 L909.12 1192.17 L912.72 1192.36 L916.29 1192.81 L919.79 1193.52 L923.22 1194.48 L926.53 1195.68 L929.7 1197.12 L932.72 1198.78 L935.55 1200.66 L938.17 1202.74 L940.58 1205 L942.74 1207.42 L944.64 1210 L946.27 1212.7 L947.62 1215.51 L948.67 1218.41 L949.43 1221.37 L949.87 1224.38 L950 1227.41 L949.82 1230.44 L949.33 1233.44 L948.53 1236.39 L947.43 1239.28 L946.03 1242.07 L944.36 1244.76 L942.41 1247.31 L940.21 1249.71 L937.77 1251.94 L935.11 1253.99 L932.24 1255.83 L929.2 1257.46 L926.01 1258.86 L922.68 1260.03 L919.24 1260.95 L915.72 1261.61 L912.14 1262.02 L908.54 1262.17 L904.94 1262.05 L901.36 1261.67 L897.83 1261.04 L894.38 1260.15 L891.04 1259.01 L887.82 1257.63 L884.76 1256.03 L881.88 1254.21 L879.19 1252.18 L876.73 1249.97 L874.5 1247.59 L872.52 1245.06 L870.81 1242.39 L869.39 1239.6 L868.25 1236.73 L867.42 1233.78 L866.89 1230.78 L866.67 1227.76 L866.77 1224.73 L867.17 1221.72 L867.89 1218.75 L868.91 1215.84 L870.22 1213.02 L871.82 1210.3 L873.7 1207.71 L875.83 1205.27 L850 1172.5 Z"/>
<g style="stroke:#444;stroke-width:1.7">
<path class="l" d="M 908.33 1200 L 908.33 1233.33 M 883 1233.67 L 934.17 1233.67 M 889.67 1243.67 L 928 1243.67 M 900.33 1252.5 L 917 1252.5"/>
</g>
<!-- 05_cab.py -->
<path class="c" d="M 1301.67 266.33 L 1455.83 205 L 1471.67 209.17 L 1471.67 218.67 M 1457.5 214.67 L 1471.67 209.17 M 1457.5 214.67 L 1646.67 262.83"/>
<path class="c" d="M 1635.83 259.17 L 1657.5 250.33 L 1685 258 M 1674.17 255.83 L 1512.5 319.17 L 1301.67 266.33 M 1512.5 319.17 L 1512.5 328.33 L 1308.33 276.33 M 1512.5 328.33 L 1667 267.5 M 1663.33 267 L 1672.5 269.67"/>
<path class="c" d="M 1301.67 266.33 L 1301.67 1004"/>
<path class="c" d="M 1308.33 276.33 L 1309.33 447.33"/>
<path class="c" d="M 1674.17 255.83 L 1675 1036.67 L 1668.33 1039.33"/>
<path class="c" d="M 1668 267.5 L 1668.33 1039.33"/>
<path class="c" d="M 1457.17 313.67 L 1457.17 394.67"/>
<path class="c" d="M 1309.33 447.33 L 1456.67 395 L 1651.67 445 L 1651.67 453 L 1512.33 508.33 L 1512.33 499.33 L 1651.67 445 M 1309.33 447.33 L 1512.33 499.33 M 1310 456.67 L 1512.33 508.33"/>
<path class="c" d="M 1309.33 677.33 L 1456.67 625 L 1651.67 675 L 1651.67 683 L 1512.33 738.33 L 1512.33 729.33 L 1651.67 675 M 1309.33 677.33 L 1512.33 729.33 M 1310 686.67 L 1512.33 738.33"/>
<path class="c" d="M 1309.33 996.67 L 1456.67 944.33 L 1651.67 994.33 L 1651.67 1002.33 L 1512.33 1057.67 L 1512.33 1048.67 L 1651.67 994.33 M 1309.33 996.67 L 1512.33 1048.67 M 1310 1006 L 1512.33 1057.67"/>
<path class="c" d="M 1310 456.67 L 1309.33 677.33"/>
<path class="c" d="M 1309.33 687.33 L 1309.33 996"/>
<path class="c" d="M 1470.67 498.33 L 1470.67 626.67"/>
<path class="c" d="M 1470.67 729.33 L 1470.67 946"/>
<path class="c" d="M 1301.67 1004 L 1512.33 1057.67"/>
<path class="c" d="M 1317.33 1008.33 L 1317.33 1041.67 L 1528.33 1095 L 1528.33 1051.67 M 1528.33 1095 L 1668.33 1039.33"/>
<path class="h2" d="M 1674.38 255.25 L 1815 291.62"/>
<path class="h2" d="M 1830 295.25 L 1833.12 296.25"/>
<path class="h2" d="M 1688.75 273.12 L 1776.25 296.25"/>
<path class="c" d="M 1664.38 266.5 L 1672.75 269.38"/>
<path class="h2" d="M 1791.25 300 L 1795 301.25"/>
<path class="h2" d="M 1668.33 435 L 1810 470.67"/>
<path class="h2" d="M 1653.33 445 L 1796.67 481.67"/>
<path class="h2" d="M 1835 476.67 L 1850 480.67"/>
<path class="h2" d="M 1810 486 L 1816.67 487.67"/>
<path class="h2" d="M 1515 509.33 L 1730 561.67"/>
<path class="h2" d="M 1743.33 565.33 L 1748.33 566.67"/>
<path class="h2" d="M 1670 670 L 1990 750.83"/>
<path class="h2" d="M 1658.33 676.67 L 1900 737.5"/>
<path class="h2" d="M 1515 731.67 L 1824.17 808.67"/>
<path class="h2" d="M 1145.83 737.5 L 1304.17 680"/>
<path class="h2" d="M 1350.83 789.67 L 1485.83 740"/>
<path class="h2" d="M 1668.33 987.83 L 1832.5 1029.67"/>
<path class="h2" d="M 1848.33 1033.33 L 1855.33 1035.33"/>
<path class="h2" d="M 1658.33 994.17 L 1821.67 1035.83"/>
<path class="h2" d="M 1837.5 1039.67 L 1848.33 1042.5"/>
<path class="h2" d="M 1536.67 1097.33 L 1728.33 1145"/>
<path class="d" d="M1751.25 308.1 L1779 297.75 M1803.75 288.5 L1868.75 264.75"/>
<path class="af" d="M1779 297.75 L1766.92 309.73 Q1767.1 302.19 1762.03 296.61 Z"/>
<path class="af" d="M1803.75 288.5 L1815.91 276.61 Q1815.68 284.14 1820.71 289.76 Z"/>
<text transform="translate(1841.5 269) rotate(-20.3) skewX(-10)" font-size="36.5" text-anchor="middle">45</text>
<path class="d" d="M1768.3 492.7 L1795 481.7 M1821.7 472.7 L1885 448.3"/>
<path class="af" d="M1795 481.7 L1783.34 494.08 Q1783.26 486.54 1778 481.13 Z"/>
<path class="af" d="M1821.7 472.7 L1833.65 460.59 Q1833.55 468.13 1838.68 473.66 Z"/>
<text transform="translate(1858.5 455.3) rotate(-20.3) skewX(-10)" font-size="36.5" text-anchor="middle">45</text>
<path class="d" d="M1778.3 1052 L1819.7 1037 M1834.2 1029.2 L1891.7 1008.3"/>
<path class="af" d="M1819.7 1037 L1807.51 1048.86 Q1807.76 1041.33 1802.74 1035.7 Z"/>
<path class="af" d="M1834.2 1029.2 L1846.38 1017.33 Q1846.14 1024.86 1851.16 1030.48 Z"/>
<text transform="translate(1868.8 1011) rotate(-20.3) skewX(-10)" font-size="36.5" text-anchor="middle">45</text>
<path class="d" d="M1888.67 723 L1949.17 700.83"/>
<path class="af" d="M1888.67 723 L1900.81 711.09 Q1900.59 718.63 1905.63 724.24 Z"/>
<text transform="translate(1923 706) rotate(-20.3) skewX(-10)" font-size="36.5" text-anchor="middle">45</text>
<path class="d" d="M 1722.33 565 L 1722.33 1141.67"/>
<path class="af" d="M1722.33 562.67 L1729.33 578.17 Q1722.33 575.37 1715.33 578.17 Z"/>
<path class="af" d="M1722.5 781.67 L1715.5 766.17 Q1722.5 768.97 1729.5 766.17 Z"/>
<path class="af" d="M1722.5 783.33 L1729.5 798.83 Q1722.5 796.03 1715.5 798.83 Z"/>
<path class="af" d="M1722.33 1143.33 L1715.33 1127.83 Q1722.33 1130.63 1729.33 1127.83 Z"/>
<text x="1718.3" y="712" font-size="36.5" text-anchor="start" transform="rotate(-90 1718.3 712)">450</text>
<text x="1704.2" y="636.7" font-size="12.5" text-anchor="start" transform="rotate(-90 1704.2 636.7)">+2</text>
<text x="1716.7" y="637.5" font-size="12.5" text-anchor="start" transform="rotate(-90 1716.7 637.5)">-0</text>
<text x="1718.7" y="1001.5" font-size="35.8" text-anchor="start" transform="rotate(-90 1718.7 1001.5)">850</text>
<text x="1718.7" y="941.8" font-size="15.5" text-anchor="start" transform="rotate(-90 1718.7 941.8)">min</text>
<path class="d" d="M1723 782 L1868.67 729.17"/>
<path class="af" d="M1723 782 L1735.18 770.13 Q1734.94 777.67 1739.96 783.3 Z"/>
<path class="af" d="M1868.67 729.17 L1856.48 741.03 Q1856.73 733.5 1851.71 727.87 Z"/>
<text transform="translate(1784.17 755) rotate(-20) skewX(-10)" font-size="36.5" text-anchor="middle">500</text>
<path class="d" d="M1824.17 801.67 L1969.17 750"/>
<path class="af" d="M1824.17 801.67 L1836.42 789.87 Q1836.13 797.4 1841.12 803.06 Z"/>
<path class="af" d="M1969.17 750 L1956.92 761.8 Q1957.2 754.26 1952.22 748.61 Z"/>
<text transform="translate(1879.17 775.33) rotate(-20) skewX(-10)" font-size="36.5" text-anchor="middle">545</text>
<text transform="translate(1920.83 763.67) rotate(-20) skewX(-10)" font-size="16" text-anchor="middle">min</text>
<rect x="1306" y="731" width="9" height="43" fill="#fff"/>
<path class="d" d="M1168.67 734.67 L1360.83 782.5"/>
<path class="af" d="M1168.67 734.67 L1185.4 731.62 Q1180.99 737.73 1182.02 745.2 Z"/>
<path class="af" d="M1360.83 782.5 L1344.1 785.55 Q1348.51 779.43 1347.48 771.96 Z"/>
<text transform="translate(1272.17 755.83) rotate(14.2) skewX(-3)" font-size="35.2" text-anchor="middle">560</text>
<text transform="translate(1303.33 746.67) rotate(14.2) skewX(-3)" font-size="17" text-anchor="start">+8</text>
<text transform="translate(1299 765.67) rotate(14.2) skewX(-3)" font-size="17" text-anchor="start">-0</text>
</svg>
</body></html>
